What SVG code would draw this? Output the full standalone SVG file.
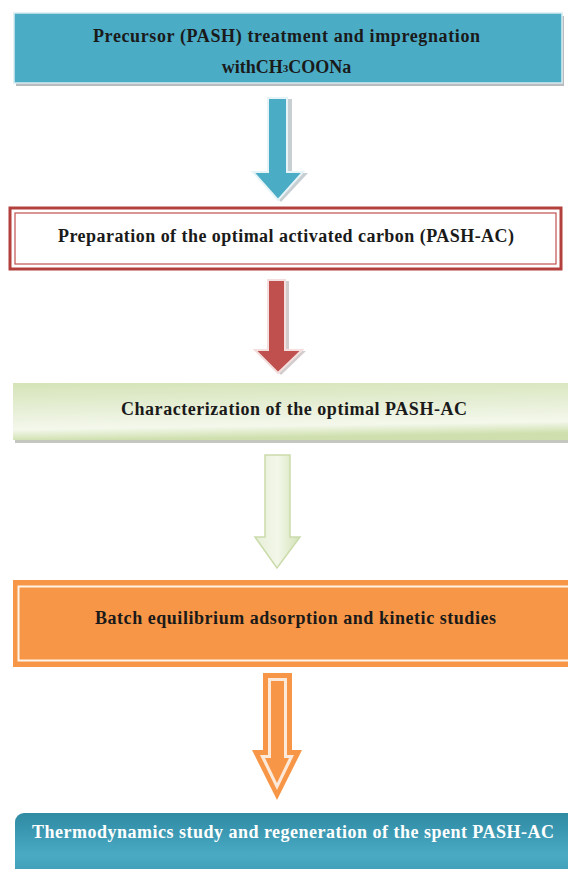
<svg xmlns="http://www.w3.org/2000/svg" width="568" height="869" viewBox="0 0 568 869">
<defs>
<style>
.t{font-family:"Liberation Serif","Times New Roman",serif;font-weight:bold;font-size:18px;text-anchor:middle;fill:#1a1a1a}
.w{fill:#ffffff}
</style>
<linearGradient id="gGreen" x1="0" y1="0" x2="0.15" y2="1">
<stop offset="0" stop-color="#d5e4b8"/>
<stop offset="0.55" stop-color="#eaf1dc"/>
<stop offset="0.8" stop-color="#f4f8ec"/>
<stop offset="1" stop-color="#cfe0ae"/>
</linearGradient>
<linearGradient id="gArrowGreen" x1="0" y1="0" x2="1" y2="0">
<stop offset="0" stop-color="#e6eed6"/>
<stop offset="0.5" stop-color="#f3f7ea"/>
<stop offset="1" stop-color="#d3e2b6"/>
</linearGradient>
<linearGradient id="gTeal" x1="0" y1="0" x2="0" y2="1">
<stop offset="0" stop-color="#2f8aa3"/>
<stop offset="0.6" stop-color="#4aaac4"/>
<stop offset="1" stop-color="#3a96b0"/>
</linearGradient>
</defs>

<g id="connectors">
<path d="M270,98 H290 V172 H306 L279,201 L252,172 H270 Z" fill="#c8cfd3" transform="translate(2,1)"/>
<path d="M268,98 H287 V172 H303 L278,200 L253,172 H268 Z" fill="#4bacc6" stroke="#e6f3f7" stroke-width="2"/>
<path d="M270,280 H288 V350 H305 L280,374 L256,350 H270 Z" fill="#d2cccc" transform="translate(1,1)"/>
<path d="M268,280 H285 V350 H302 L278,373 L255,350 H268 Z" fill="#c0504d" stroke="#f4dede" stroke-width="2"/>
<path d="M265,455 H290 V537 H300 L277,568 L255,537 H265 Z" fill="url(#gArrowGreen)" stroke="#cadbaa" stroke-width="1.5"/>
<path d="M263,673 H292 V750 H302 L277,800 L252,750 H263 Z" fill="#f79646"/>
<path d="M268,678 H287 V755 H294 L277,790 L260,755 H268 Z" fill="#fde9d9"/>
<path d="M271,681 H284 V758 H289 L277,783 L265,758 H271 Z" fill="#f79646"/>
</g>

<g id="node1">
<rect x="16" y="16" width="548" height="70" fill="#b9bcbf"/>
<rect x="14" y="13" width="548" height="70" fill="#4bacc6" stroke="#d7ecf2" stroke-width="1.5"/>
<text class="t" x="286.5" y="42" textLength="387">Precursor (PASH) treatment  and impregnation</text>
<text class="t" x="286.5" y="73">withCH<tspan font-size="11" dy="-1">3</tspan><tspan dy="1">COONa</tspan></text>
</g>

<g id="node2">
<rect x="10" y="208" width="551" height="61" fill="#ffffff" stroke="#b3403d" stroke-width="3"/>
<rect x="15" y="213" width="541" height="51" fill="none" stroke="#c0504d" stroke-width="1.2"/>
<text class="t" x="286" y="242" textLength="456">Preparation  of the optimal activated  carbon (PASH-AC)</text>
</g>

<g id="node3">
<rect x="15" y="386" width="560" height="57" fill="#c4c6c0"/>
<rect x="13" y="383" width="560" height="57" fill="url(#gGreen)"/>
<text class="t" x="294" y="415" textLength="346">Characterization  of the optimal PASH-AC</text>
</g>

<g id="node4">
<rect x="13" y="580" width="560" height="87" fill="#f79646"/>
<rect x="18.5" y="586.5" width="560" height="74" fill="#f79646" stroke="#fff4ea" stroke-width="2"/>
<text class="t" x="295.5" y="624" textLength="401" fill="#2a160c">Batch equilibrium adsorption and kinetic studies</text>
</g>

<g id="node5">
<rect x="15" y="813" width="570" height="70" rx="9" ry="9" fill="url(#gTeal)"/>
<text class="t w" x="293" y="838" textLength="522">Thermodynamics study and regeneration  of the spent PASH-AC</text>
</g>
</svg>
